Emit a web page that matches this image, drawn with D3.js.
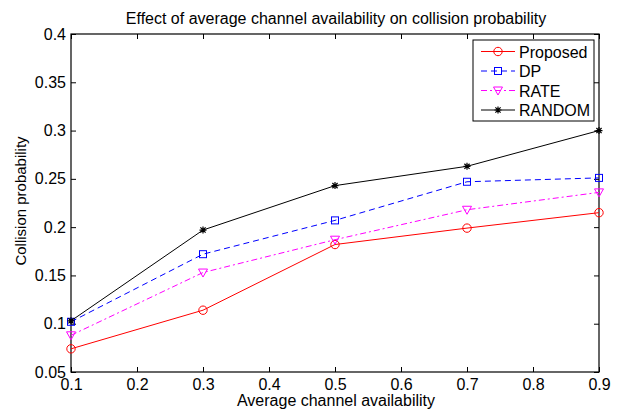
<!DOCTYPE html>
<html>
<head>
<meta charset="utf-8">
<script src="https://cdn.jsdelivr.net/npm/d3@7"></script>
<style>
  body { margin: 0; background: #fff; }
  svg text { font-family: "Liberation Sans", Arial, Helvetica, sans-serif; }
</style>
</head>
<body>
<div id="grafico"></div>
<script>
// datos
var availability = [0.1, 0.3, 0.5, 0.7, 0.9];
var proposed = [0.074, 0.114, 0.182, 0.199, 0.215];
var dp       = [0.102, 0.172, 0.207, 0.247, 0.251];
var rate     = [0.088, 0.153, 0.187, 0.218, 0.236];
var random   = [0.103, 0.197, 0.243, 0.263, 0.300];
var xTicks = [0.1, 0.2, 0.3, 0.4, 0.5, 0.6, 0.7, 0.8, 0.9];
var yTicks = [0.05, 0.1, 0.15, 0.2, 0.25, 0.3, 0.35, 0.4];
var seriesNames = ["Proposed", "DP", "RATE", "RANDOM"];

var ancho = 624, alto = 412;
var izq = 71, der = 599, arriba = 34, abajo = 372;

var svg = d3.select("#grafico").append("svg")
  .attr("width", ancho)
  .attr("height", alto);

var x = d3.scaleLinear().domain([0.1, 0.9]).range([izq, der]);
var y = d3.scaleLinear().domain([0.05, 0.4]).range([abajo, arriba]);

var fmt = function(d){ return String(+d.toFixed(2)); };

// ejes con ticks hacia adentro (estilo matlab)
svg.append("g")
  .attr("transform", "translate(0," + abajo + ")")
  .call(d3.axisBottom(x).tickValues(xTicks).tickSize(-5).tickPadding(7).tickFormat(fmt));
svg.append("g")
  .attr("transform", "translate(0," + arriba + ")")
  .call(d3.axisTop(x).tickValues(xTicks).tickSize(-5).tickFormat(""));
svg.append("g")
  .attr("transform", "translate(" + izq + ",0)")
  .call(d3.axisLeft(y).tickValues(yTicks).tickSize(-5).tickPadding(5).tickFormat(fmt));
svg.append("g")
  .attr("transform", "translate(" + der + ",0)")
  .call(d3.axisRight(y).tickValues(yTicks).tickSize(-5).tickFormat(""));

svg.selectAll(".domain").remove();
svg.selectAll(".tick line").attr("stroke", "#000").attr("stroke-width", 1);
svg.selectAll(".tick text").attr("font-size", "16px").attr("fill", "#000");

svg.append("rect")
  .attr("x", izq).attr("y", arriba)
  .attr("width", der - izq).attr("height", abajo - arriba)
  .attr("fill", "none").attr("stroke", "#000").attr("stroke-width", 1.2);

// titulo y etiquetas
svg.append("text")
  .text("Effect of average channel availability on collision probability")
  .attr("x", 336).attr("y", 24)
  .attr("text-anchor", "middle").attr("font-size", "16px");

svg.append("text")
  .text("Average channel availability")
  .attr("x", 336).attr("y", 406)
  .attr("text-anchor", "middle").attr("font-size", "16px");

svg.append("text")
  .text("Collision probability")
  .attr("transform", "translate(26,201) rotate(-90)")
  .attr("text-anchor", "middle").attr("font-size", "15px");

var series = [
  {name: "Proposed", values: proposed, color: "#ff0000", dash: null, marker: "circle"},
  {name: "DP", values: dp, color: "#0000ff", dash: "6,4", marker: "square"},
  {name: "RATE", values: rate, color: "#ff00ff", dash: "6,3,2,3", marker: "triangle"},
  {name: "RANDOM", values: random, color: "#000000", dash: null, marker: "star"}
];

var linea = d3.line()
  .x(function(d){ return x(d[0]); })
  .y(function(d){ return y(d[1]); });

function marcador(g, tipo, color){
  if (tipo === "circle"){
    g.append("circle").attr("r", 4.2).attr("fill", "none").attr("stroke", color);
  } else if (tipo === "square"){
    g.append("rect").attr("x", -3.5).attr("y", -3.5).attr("width", 7).attr("height", 7)
      .attr("fill", "none").attr("stroke", color);
  } else if (tipo === "triangle"){
    g.append("path").attr("d", "M-4.5,-3.5L4.5,-3.5L0,4.5Z")
      .attr("fill", "none").attr("stroke", color);
  } else {
    g.append("path").attr("d", "M-3.5,0L3.5,0M0,-3.5L0,3.5M-2.6,-2.6L2.6,2.6M-2.6,2.6L2.6,-2.6")
      .attr("fill", "none").attr("stroke", color).attr("stroke-width", 1.2);
  }
}

series.forEach(function(s){
  var pts = availability.map(function(a, i){ return [a, s.values[i]]; });
  svg.append("path")
    .datum(pts)
    .attr("d", linea)
    .attr("fill", "none")
    .attr("stroke", s.color)
    .attr("stroke-width", 1)
    .attr("stroke-dasharray", s.dash);
  pts.forEach(function(p){
    var g = svg.append("g").attr("transform", "translate(" + x(p[0]) + "," + y(p[1]) + ")");
    marcador(g, s.marker, s.color);
  });
});

// leyenda
var leyenda = svg.append("g").attr("class", "leyenda");
leyenda.append("rect")
  .attr("x", 473).attr("y", 40).attr("width", 121).attr("height", 81)
  .attr("fill", "#fff").attr("stroke", "#000").attr("stroke-width", 1);

series.forEach(function(s, i){
  var yy = 51.5 + i * 19.5;
  leyenda.append("line")
    .attr("x1", 481).attr("x2", 515).attr("y1", yy).attr("y2", yy)
    .attr("stroke", s.color).attr("stroke-width", 1)
    .attr("stroke-dasharray", s.dash);
  var g = leyenda.append("g").attr("transform", "translate(498," + yy + ")");
  marcador(g, s.marker, s.color);
  leyenda.append("text")
    .text(s.name)
    .attr("x", 519).attr("y", yy + 6)
    .attr("font-size", "16px");
});
</script>
</body>
</html>
